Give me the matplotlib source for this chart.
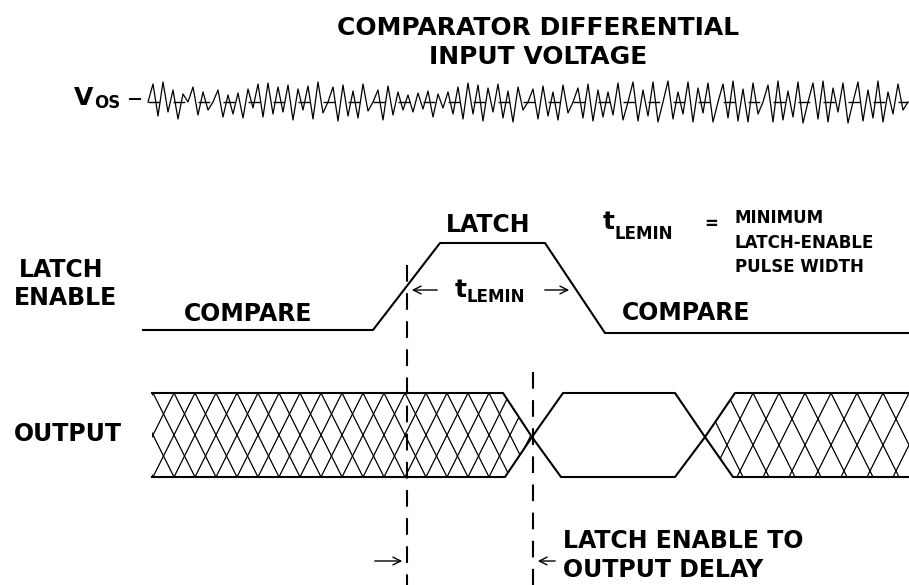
import matplotlib
matplotlib.use("Agg")
import matplotlib.pyplot as plt
import numpy as np
from matplotlib.collections import LineCollection
from matplotlib.patches import Polygon

plt.rcParams['font.family'] = ['DejaVu Sans']
plt.rcParams['font.weight'] = 'bold'

# comparator input noise around V_OS (pixel offsets, up = positive)
vos_offsets = [0, 18, -14, 20, -10, 12, -17, 8, 0, 15, -13, 10, -8, 0, 12, -15, 7, -12, 9, -16,
               13, -6, 18, -15, 19, -12, 15, -10, 17, -18, 13,
               -8, 16, -17, 20, -11, 0, 15, -19, 17, -14, 11, -16, 18, -9, 0, 12, -18, 16, -13,
               10, -8, 7, -10, 9, -7, 11, -15, 8, -6, 10, -12, 15,
               -17, 19, -12, 17, -19, 14, -10, 18, -16, 11, -20, 15, -8, 0, 13, -17, 16, -14, 10,
               -18, 17, -11, 0, 14, -16, 18, -19, 12, -15, 10, -13, 19,
               -18, 0, 20, -19, 12, -14, 20, -20, 0, 21, -17, 10, -12, 20, -20, 14, -11, 19, -20,
               0, 18, -16, 21, -19, 13, -20, 19, -12, 0, 17, -20, 21,
               -18, 11, -15, 20, -21, 0, 19, -17, 21, -20, 14, -10, 19, -21, 0, 20, -19, 12, -16,
               21, -20, 10, -12, 18, -8, 0]
vos_level = 102
vos_start, vos_end = 148, 908

# latch enable waveform
latch_x = [143, 373, 440, 545, 605, 909]
latch_y = [330, 330, 243, 243, 333, 333]

# output eye: two crossing traces
out_a_x = [152, 503, 532, 561, 675, 705, 735, 909]
out_a_y = [393, 393, 437, 477, 477, 437, 393, 393]
out_b_x = [152, 505, 532, 563, 675, 705, 733, 909]
out_b_y = [477, 477, 437, 393, 393, 437, 477, 477]

# hatched (undefined) output regions
hatch_left = [(152, 393), (503, 393), (532, 437), (505, 477), (152, 477)]
hatch_right = [(705, 437), (735, 393), (909, 393), (909, 477), (733, 477)]

# dashed timing markers
marker_x = [407, 533]
marker_top = [265, 372]

fig = plt.figure(figsize=(9.09, 5.85), dpi=100)
ax = fig.add_axes([0, 0, 1, 1])
ax.set_xlim(0, 909)
ax.set_ylim(585, 0)
ax.axis('off')

# noise
xs = np.linspace(vos_start, vos_end, len(vos_offsets))
ax.plot([vos_start, vos_end], [vos_level, vos_level], color='black', lw=1.0,
        linestyle=(0, (8.5, 9.5)))
ax.plot(xs, vos_level - np.array(vos_offsets), color='black', lw=0.9)
ax.plot([130, 140], [vos_level - 3, vos_level - 3], color='black', lw=1.4)
ax.text(93, 105, 'V', fontsize=18, ha='right', va='baseline', color='black')
ax.text(94, 108, 'OS', fontsize=12, ha='left', va='baseline', color='black')

ax.text(538, 35, 'COMPARATOR DIFFERENTIAL', fontsize=18, ha='center', va='baseline')
ax.text(538, 64, 'INPUT VOLTAGE', fontsize=18, ha='center', va='baseline')

# latch enable
ax.plot(latch_x, latch_y, color='black', lw=1.5)
ax.text(61, 277, 'LATCH', fontsize=17, ha='center', va='baseline')
ax.text(65, 305, 'ENABLE', fontsize=17, ha='center', va='baseline')
ax.text(488, 232, 'LATCH', fontsize=17, ha='center', va='baseline')
ax.text(248, 321, 'COMPARE', fontsize=17, ha='center', va='baseline')
ax.text(686, 320, 'COMPARE', fontsize=17, ha='center', va='baseline')

# t_LEMIN arrows
ax.annotate('', xy=(409, 290), xytext=(440, 290),
            arrowprops=dict(arrowstyle='->', lw=1.0, color='black', mutation_scale=14))
ax.annotate('', xy=(572, 290), xytext=(542, 290),
            arrowprops=dict(arrowstyle='->', lw=1.0, color='black', mutation_scale=14))
ax.text(455, 297, 't', fontsize=18, ha='left', va='baseline')
ax.text(466, 302, 'LEMIN', fontsize=12, ha='left', va='baseline')

# legend text upper right
ax.text(603, 229, 't', fontsize=18, ha='left', va='baseline')
ax.text(615, 239, 'LEMIN', fontsize=12, ha='left', va='baseline')
ax.text(704, 229, '=', fontsize=12, ha='left', va='baseline')
ax.text(735, 223, 'MINIMUM', fontsize=12, ha='left', va='baseline')
ax.text(735, 248, 'LATCH-ENABLE', fontsize=12, ha='left', va='baseline')
ax.text(735, 272, 'PULSE WIDTH', fontsize=12, ha='left', va='baseline')

# output hatching
def hatch_lines(poly, d, x0, s=2.0):
    ys = [p[1] for p in poly]
    xsp = [p[0] for p in poly]
    yt, yb = min(ys), max(ys)
    h = yb - yt
    segs = []
    xk = x0
    while xk > min(xsp) - h / s:
        xk -= d
    while xk < max(xsp) + h / s:
        segs.append([(xk, yt), (xk + h / s, yb)])
        segs.append([(xk, yt), (xk - h / s, yb)])
        xk += d
    patch = Polygon(poly, closed=True, fill=False, edgecolor='none')
    ax.add_patch(patch)
    lc = LineCollection(segs, colors='black', linewidths=0.9)
    ax.add_collection(lc)
    lc.set_clip_path(patch)

hatch_lines(hatch_left, 21, 153)
hatch_lines(hatch_right, 26, 753)

ax.plot(out_a_x, out_a_y, color='black', lw=1.5)
ax.plot(out_b_x, out_b_y, color='black', lw=1.5)
ax.text(68, 441, 'OUTPUT', fontsize=17, ha='center', va='baseline')

# dashed markers
for mx, mt in zip(marker_x, marker_top):
    ax.plot([mx, mx], [mt, 585], color='black', lw=1.5, linestyle=(0, (8, 5.5)))

# propagation delay
ax.annotate('', xy=(405, 561), xytext=(372, 561),
            arrowprops=dict(arrowstyle='->', lw=1.0, color='black', mutation_scale=14))
ax.annotate('', xy=(535, 561), xytext=(558, 561),
            arrowprops=dict(arrowstyle='->', lw=1.0, color='black', mutation_scale=14))
ax.text(563, 548, 'LATCH ENABLE TO', fontsize=17, ha='left', va='baseline')
ax.text(563, 577, 'OUTPUT DELAY', fontsize=17, ha='left', va='baseline')

fig.savefig('out.png', dpi=100, facecolor='white')
